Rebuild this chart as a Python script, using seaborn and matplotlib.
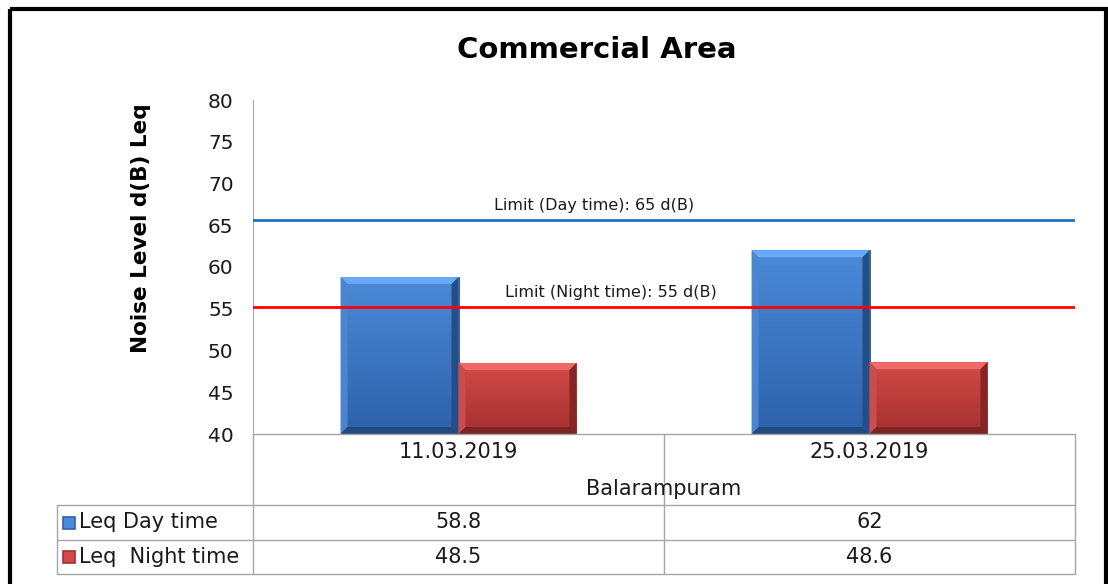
import numpy as np
import pandas as pd
import matplotlib
matplotlib.use("Agg")
import matplotlib.pyplot as plt
from matplotlib.patches import Polygon, Rectangle
from matplotlib.colors import LinearSegmentedColormap, to_rgb
import seaborn as sns

# chart values
dates = ["11.03.2019", "25.03.2019"]
location = "Balarampuram"
series_names = ["Leq Day time", "Leq  Night time"]
day_values = [58.8, 62]
night_values = [48.5, 48.6]
limit_values = [65.6, 55.2]
limit_labels = ["Limit (Day time): 65 d(B)", "Limit (Night time): 55 d(B)"]
y_ticks = [40, 45, 50, 55, 60, 65, 70, 75, 80]

blue = "#3c78c8"
red = "#c23b3a"
bar_colors = [blue, red]
grad_colors = [("#2d61aa", "#4b8ad8"), ("#a53030", "#d24a47")]
line_colors = ["#1f74c4", "#ff0000"]
grid_gray = "#a6a6a6"
txt = "#1a1a1a"

df = pd.DataFrame({
    "date": dates * 2,
    "series": [series_names[0]] * 2 + [series_names[1]] * 2,
    "value": day_values + night_values,
})

sns.set_style("white")
plt.rcParams["font.family"] = ["DejaVu Sans"]

W, H = 1108, 584
fig = plt.figure(figsize=(W / 100, H / 100), dpi=100)
fig.patch.set_facecolor("white")

# plot area in pixels
px_left, px_right, px_top, px_bottom = 253, 1075, 100, 434
ax = fig.add_axes([px_left / W, 1 - px_bottom / H,
                   (px_right - px_left) / W, (px_bottom - px_top) / H])

sns.barplot(data=df, x="date", y="value", hue="series", palette=bar_colors,
            width=0.574, gap=0, ax=ax, legend=False,
            edgecolor="#2a4f80", linewidth=0.6, saturation=1)

ax.set_xlim(-0.5, 1.5)
ax.set_ylim(40, 80)
ax.set_yticks(y_ticks)
ax.tick_params(axis="y", labelsize=14.5, colors=txt, length=0, pad=14)
ax.set_xticks([])
ax.set_xlabel("")
ax.set_ylabel("")
for side in ["top", "right", "bottom"]:
    ax.spines[side].set_visible(False)
ax.spines["left"].set_color(grid_gray)

# gradient + bevel look on bars
unit_x = (px_right - px_left) / 2.0
unit_y = (px_bottom - px_top) / 40.0
dx, dy = 7 / unit_x, 7 / unit_y
bars = list(ax.patches)
for i, patch in enumerate(bars):
    x0 = patch.get_x()
    x1 = x0 + patch.get_width()
    h = patch.get_height()
    b = 40
    lo, hi = grad_colors[i // 2]
    cmap = LinearSegmentedColormap.from_list("g", [lo, hi])
    im = ax.imshow(np.linspace(0, 1, 64).reshape(-1, 1), extent=[x0, x1, b, h],
                   origin="lower", aspect="auto", cmap=cmap, zorder=2.5)
    im.set_clip_path(patch)
    fc = np.array(to_rgb(hi))
    mid = np.array(to_rgb(lo))
    ax.add_patch(Polygon([(x0, h), (x1, h), (x1 - dx, h - dy), (x0 + dx, h - dy)],
                         closed=True, fc=np.clip(fc + 0.12, 0, 1), ec="none", zorder=3))
    ax.add_patch(Polygon([(x0, b), (x0, h), (x0 + dx, h - dy), (x0 + dx, b + dy)],
                         closed=True, fc=np.clip((fc + mid) / 2 + 0.06, 0, 1), ec="none", zorder=3))
    ax.add_patch(Polygon([(x1, b), (x1, h), (x1 - dx, h - dy), (x1 - dx, b + dy)],
                         closed=True, fc=mid * 0.8, ec="none", zorder=3))
    ax.add_patch(Polygon([(x0, b), (x1, b), (x1 - dx, b + dy), (x0 + dx, b + dy)],
                         closed=True, fc=mid * 0.75, ec="none", zorder=3))
ax.set_xlim(-0.5, 1.5)
ax.set_ylim(40, 80)

# limit lines
label_x = [0.33, 0.37]
for val, lab, col, lx in zip(limit_values, limit_labels, line_colors, label_x):
    ax.axhline(val, color=col, linewidth=2, zorder=4)
    ax.annotate(lab, xy=(lx, val), xytext=(0, 5), textcoords="offset points",
                ha="center", va="bottom", fontsize=11.5, color=txt)

fig.text(597 / W, 1 - 50 / H, "Commercial Area", ha="center", va="center",
         fontsize=21, fontweight="bold", color="black")
fig.text(141 / W, 1 - 228 / H, "Noise Level d(B) Leq", ha="center", va="center",
         rotation=90, fontsize=15.5, fontweight="bold", color="black")

# overlay in pixel coordinates for data table and frame
ov = fig.add_axes([0, 0, 1, 1])
ov.set_xlim(0, W)
ov.set_ylim(H, 0)
ov.axis("off")
ov.patch.set_alpha(0)

col_edges = [px_left, (px_left + px_right) / 2, px_right]
col_centers = [(col_edges[i] + col_edges[i + 1]) / 2 for i in range(2)]
row_top, row1, row2, row_end = px_bottom, 505, 540, 574
tbl_left = 57

for xv in col_edges:
    ov.plot([xv, xv], [row_top, row_end], color=grid_gray, lw=1)
ov.plot([tbl_left, tbl_left], [row1, row_end], color=grid_gray, lw=1)
ov.plot([px_left, px_right], [row_top, row_top], color=grid_gray, lw=1)
for yv in [row1, row2, row_end]:
    ov.plot([tbl_left, px_right], [yv, yv], color=grid_gray, lw=1)

for cx, d in zip(col_centers, dates):
    ov.text(cx, 452, d, ha="center", va="center", fontsize=15, color=txt)
ov.text((px_left + px_right) / 2, 489, location, ha="center", va="center",
        fontsize=15, color=txt)

rows = [(row1, row2, day_values), (row2, row_end, night_values)]
for (ya, yb, vals), name, (lo, hi) in zip(rows, series_names, grad_colors):
    yc = (ya + yb) / 2
    ov.add_patch(Rectangle((63, yc - 6), 12, 12, fc=hi, ec=lo, lw=1.2))
    ov.text(79, yc, name, ha="left", va="center", fontsize=15, color=txt)
    for cx, v in zip(col_centers, vals):
        ov.text(cx, yc, f"{v:g}", ha="center", va="center", fontsize=15, color=txt)

# outer frame
ov.add_patch(Rectangle((10, 9), 1096, 600, fill=False, ec="black", lw=3, clip_on=False))

fig.savefig("out.png", dpi=100, facecolor="white")
